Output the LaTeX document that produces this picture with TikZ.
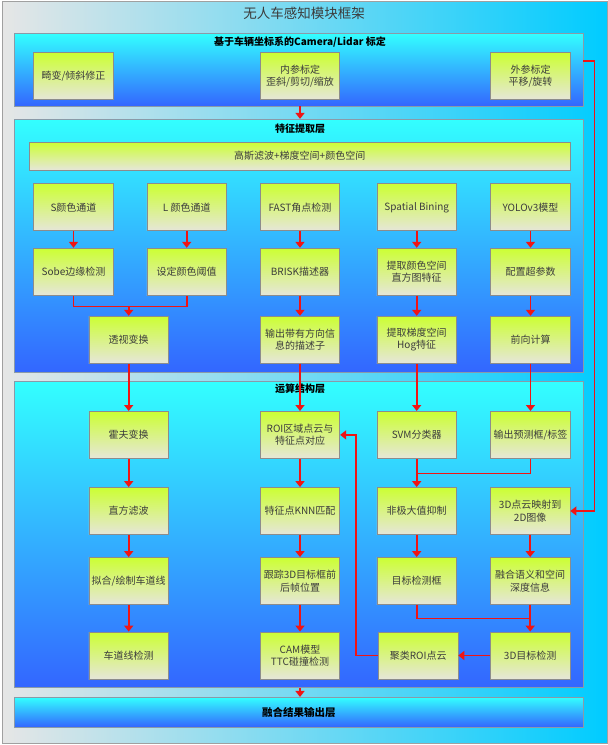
\documentclass[tikz,border=0pt]{standalone}
\usepackage{fontspec}
\setmainfont{Noto Sans CJK SC}
\usetikzlibrary{arrows.meta,calc}
\definecolor{bgleft}{RGB}{230,230,230}
\definecolor{bgright}{RGB}{0,204,255}
\definecolor{bgborder}{RGB}{160,160,160}
\definecolor{paneltop}{RGB}{51,255,255}
\definecolor{panelbot}{RGB}{51,102,255}
\definecolor{panelborder}{RGB}{138,154,168}
\definecolor{boxtop}{RGB}{204,255,51}
\definecolor{boxbot}{RGB}{230,230,217}
\definecolor{boxborder}{RGB}{140,140,140}
\definecolor{boxtext}{RGB}{60,60,60}
\definecolor{linered}{RGB}{240,20,20}
\begin{document}
\begin{tikzpicture}[x=1pt,y=-1pt,
  frame/.style={draw=bgborder, line width=1pt, left color=bgleft, right color=bgright, inner sep=0pt},
  panel/.style={draw=panelborder, line width=0.8pt, top color=paneltop, bottom color=panelbot, minimum width=569pt, inner sep=0pt},
  box/.style={draw=boxborder, line width=0.8pt, top color=boxtop, bottom color=boxbot, minimum width=79.5pt, minimum height=47pt, inner sep=0pt, align=center, font=\fontsize{10}{12.5}\selectfont, text=boxtext},
  ptitle/.style={font=\bfseries\fontsize{10}{12}\selectfont, text=black, inner sep=0pt},
  maintitle/.style={font=\fontsize{13.5}{15}\selectfont, text=boxtext, inner sep=0pt},
  conn/.style={draw=linered, line width=1.6pt, -{Triangle[width=9pt,length=6pt]}},
  redline/.style={draw=linered, line width=1.6pt},
]
\useasboundingbox (0,0) rectangle (608,745);
\node[frame, minimum width=605pt, minimum height=741.5pt] (frame) at (304.5,372.5) {};
\node[maintitle] (t0) at (304,13.5) {无人车感知模块框架};

% panels
\node[panel, minimum height=72.7pt] (p1) at (298.8,69.7) {};
\node[panel, minimum height=253pt] (p2) at (298.8,245.8) {};
\node[panel, minimum height=306.3pt] (p3) at (298.8,534.2) {};
\node[panel, minimum height=29.7pt, font=\bfseries\fontsize{10.5}{12}\selectfont] (p4) at (298.8,712.2) {融合结果输出层};

\node[ptitle] (t1) at (300,42.3) {基于车辆坐标系的Camera/Lidar 标定};
\node[ptitle] (t2) at (300,128.3) {特征提取层};
\node[ptitle] (t3) at (300,389) {运算结构层};

% layer 1
\node[box] (dist) at (73.5,76.2) {畸变/倾斜修正};
\node[box] (intr) at (300,76.2) {内参标定\\歪斜/剪切/缩放};
\node[box] (extr) at (530.5,76.2) {外参标定\\平移/旋转};

% layer 2
\node[box, minimum width=541.3pt, minimum height=28pt] (gauss) at (299.7,156) {高斯滤波+梯度空间+颜色空间};
\node[box] (schan) at (73.5,207.3) {S颜色通道};
\node[box] (lchan) at (186.7,207.3) {L 颜色通道};
\node[box] (fast) at (300,207.3) {FAST角点检测};
\node[box] (spat) at (416.7,207.3) {Spatial Bining};
\node[box] (yolo) at (530.5,207.3) {YOLOv3模型};

\node[box] (sobel) at (73.5,271.7) {Sobe边缘检测};
\node[box] (thr) at (186.7,271.7) {设定颜色阈值};
\node[box] (brisk) at (300,271.7) {BRISK描述器};
\node[box] (hist) at (416.7,271.7) {提取颜色空间\\直方图特征};
\node[box] (hyper) at (530.5,271.7) {配置超参数};

\node[box] (persp) at (128.7,339.7) {透视变换};
\node[box] (desc) at (300,339.7) {输出带有方向信\\息的描述子};
\node[box] (hog) at (416.7,339.7) {提取梯度空间\\Hog特征};
\node[box] (fwd) at (530.5,339.7) {前向计算};

% layer 3
\node[box] (hough) at (128.7,434.9) {霍夫变换};
\node[box] (roi) at (300,434.9) {ROI区域点云与\\特征点对应};
\node[box] (svm) at (416.7,434.9) {SVM分类器};
\node[box] (ann) at (530.5,434.9) {输出预测框/标签};

\node[box] (hfilt) at (128.7,511) {直方滤波};
\node[box] (knn) at (300,511) {特征点KNN匹配};
\node[box] (nms) at (416.7,511) {非极大值抑制};
\node[box] (pc3d) at (530.2,511) {3D点云映射到\\2D图像};

\node[box] (fit) at (128.7,581) {拟合/绘制车道线};
\node[box] (track) at (300,581) {跟踪3D目标框前\\后帧位置};
\node[box] (dbox) at (416.7,581) {目标检测框};
\node[box] (fus) at (530.2,581) {融合语义和空间\\深度信息};

\node[box] (lane) at (128.7,655.5) {车道线检测};
\node[box] (cam) at (300,655.5) {CAM模型\\TTC碰撞检测};
\node[box] (clu) at (418.2,655.5) {聚类ROI点云};
\node[box] (det3d) at (530.2,655.5) {3D目标检测};

% connectors
\draw[conn] (intr |- p1.south) -- (intr |- p2.north);
\draw[conn] (cam |- p3.south) -- (cam |- p4.north);

\coordinate (extout) at (583.3,61);
\draw[conn] (extout) -- (594.3,61) |- (pc3d.east);

\draw[conn] (schan) -- (sobel);
\draw[conn] (lchan) -- (thr);
\draw[conn] (fast) -- (brisk);
\draw[conn] (spat) -- (hist);
\draw[conn] (yolo) -- (hyper);

\draw[redline] (sobel.south) -- ++(0,10.7) coordinate (m1) -| (thr.south);
\draw[conn] (m1 -| persp.north) -- (persp.north);
\draw[conn] (brisk) -- (desc);
\draw[conn] (hist) -- (hog);
\draw[conn] (hyper) -- (fwd);

\draw[conn] (persp) -- (hough);
\draw[conn] (desc) -- (roi);
\draw[conn] (hog) -- (svm);
\draw[conn] (fwd) -- (ann);

\draw[conn] (hough) -- (hfilt);
\draw[conn] (hfilt) -- (fit);
\draw[conn] (fit) -- (lane);
\draw[conn] (roi) -- (knn);
\draw[conn] (knn) -- (track);
\draw[conn] (track) -- (cam);

\path (svm.south) ++(0,14.6) coordinate (m2);
\draw[conn] (svm) -- (nms);
\draw[redline] (ann.south) |- (m2);
\draw[conn] (nms) -- (dbox);
\draw[conn] (pc3d) -- (fus);

\path (fus.south) ++(0,13.4) coordinate (m3);
\draw[conn] (fus) -- (det3d);
\draw[redline] (dbox.south) |- (m3);

\draw[conn] (det3d) -- (clu);
\draw[conn] (clu.west) -- ++(-22,0) |- (roi.east);
\end{tikzpicture}
\end{document}
